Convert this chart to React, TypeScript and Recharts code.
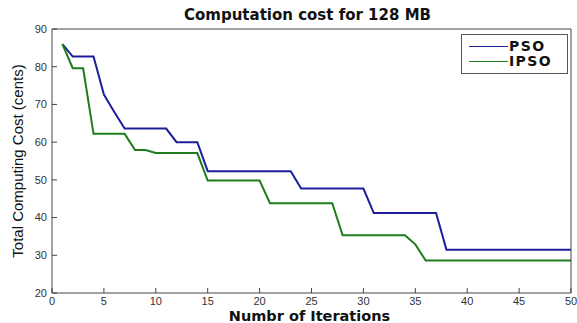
import { Legend, Line, LineChart, XAxis, YAxis } from "recharts";

const iterations = Array.from({ length: 50 }, (_, i) => i + 1);

const psoCost = [
  86, 82.7, 82.7, 82.7, 72.6, 68, 63.6, 63.6, 63.6, 63.6,
  63.6, 60, 60, 60, 52.3, 52.3, 52.3, 52.3, 52.3, 52.3,
  52.3, 52.3, 52.3, 47.7, 47.7, 47.7, 47.7, 47.7, 47.7, 47.7,
  41.2, 41.2, 41.2, 41.2, 41.2, 41.2, 41.2, 31.5, 31.5, 31.5,
  31.5, 31.5, 31.5, 31.5, 31.5, 31.5, 31.5, 31.5, 31.5, 31.5,
];

const ipsoCost = [
  86, 79.6, 79.6, 62.2, 62.2, 62.2, 62.2, 57.9, 57.9, 57.1,
  57.1, 57.1, 57.1, 57.1, 49.8, 49.8, 49.8, 49.8, 49.8, 49.8,
  43.8, 43.8, 43.8, 43.8, 43.8, 43.8, 43.8, 35.3, 35.3, 35.3,
  35.3, 35.3, 35.3, 35.3, 32.9, 28.6, 28.6, 28.6, 28.6, 28.6,
  28.6, 28.6, 28.6, 28.6, 28.6, 28.6, 28.6, 28.6, 28.6, 28.6,
];

const xTicks = [0, 5, 10, 15, 20, 25, 30, 35, 40, 45, 50];
const yTicks = [20, 30, 40, 50, 60, 70, 80, 90];

const seriesInfo = [
  { key: "pso", name: "PSO", color: "#1e1e9a" },
  { key: "ipso", name: "IPSO", color: "#1d7d1d" },
];

const font = "'Liberation Sans', Arial, sans-serif";
const boldFont = "'DejaVu Sans', 'Liberation Sans', sans-serif";
const axisColor = "#444";

function LegendBox() {
  return (
    <div
      style={{
        border: "1px solid #555",
        background: "#fff",
        width: 107,
        height: 40,
        boxSizing: "border-box",
        paddingTop: 4,
        fontFamily: boldFont,
      }}
    >
      {seriesInfo.map((s) => (
        <div key={s.key} style={{ display: "flex", alignItems: "center", height: 15 }}>
          <div style={{ width: 39, height: 0, borderTop: `1.5px solid ${s.color}`, marginLeft: 7 }} />
          <span
            style={{
              fontSize: 14,
              lineHeight: "15px",
              fontWeight: "bold",
              marginLeft: 1,
              letterSpacing: 1.4,
              color: "#111",
            }}
          >
            {s.name}
          </span>
        </div>
      ))}
    </div>
  );
}

export default function App() {
  const data = iterations.map((iter, i) => ({
    iter,
    pso: psoCost[i],
    ipso: ipsoCost[i],
  }));

  return (
    <div style={{ position: "fixed", left: 0, top: 0, width: 577, height: 323, background: "#fff" }}>
      <LineChart width={577} height={323} data={data} margin={{ top: 28, right: 5, bottom: 0, left: 0 }}>
        <XAxis
          dataKey="iter"
          type="number"
          domain={[0, 50]}
          ticks={xTicks}
          interval={0}
          height={30}
          tickSize={-5}
          tickMargin={9}
          stroke={axisColor}
          tick={{ fill: "#333", fontSize: 11, fontFamily: font }}
          label={{
            value: "Numbr of Iterations",
            position: "insideBottom",
            offset: 2,
            dx: -2,
            style: { fontSize: 14.5, fontWeight: "bold", fill: "#111", fontFamily: boldFont },
          }}
        />
        <XAxis
          xAxisId="top"
          orientation="top"
          type="number"
          domain={[0, 50]}
          ticks={xTicks}
          interval={0}
          height={1}
          tickSize={-5}
          stroke={axisColor}
          tick={false}
          label={{
            value: "Computation cost for 128 MB",
            position: "top",
            offset: 8,
            dx: -4,
            style: { fontSize: 15, fontWeight: "bold", fill: "#111", fontFamily: boldFont },
          }}
        />
        <YAxis
          type="number"
          domain={[20, 90]}
          ticks={yTicks}
          interval={0}
          width={52}
          tickSize={-5}
          tickMargin={10}
          stroke={axisColor}
          tick={{ fill: "#333", fontSize: 11, fontFamily: font }}
          label={{
            value: "Total Computing Cost (cents)",
            angle: -90,
            position: "insideLeft",
            offset: 18,
            style: { textAnchor: "middle", fontSize: 15, fill: "#111", fontFamily: font },
          }}
        />
        <YAxis
          yAxisId="right"
          orientation="right"
          type="number"
          domain={[20, 90]}
          ticks={yTicks}
          interval={0}
          width={1}
          tickSize={-5}
          stroke={axisColor}
          tick={false}
        />
        <Legend
          layout="vertical"
          align="center"
          verticalAlign="middle"
          content={() => <LegendBox />}
          wrapperStyle={{ left: 461, top: 34, width: 107 }}
        />
        {seriesInfo.map((s) => (
          <Line
            key={s.key}
            dataKey={s.key}
            name={s.name}
            type="linear"
            stroke={s.color}
            strokeWidth={2}
            dot={false}
            isAnimationActive={false}
          />
        ))}
      </LineChart>
    </div>
  );
}
